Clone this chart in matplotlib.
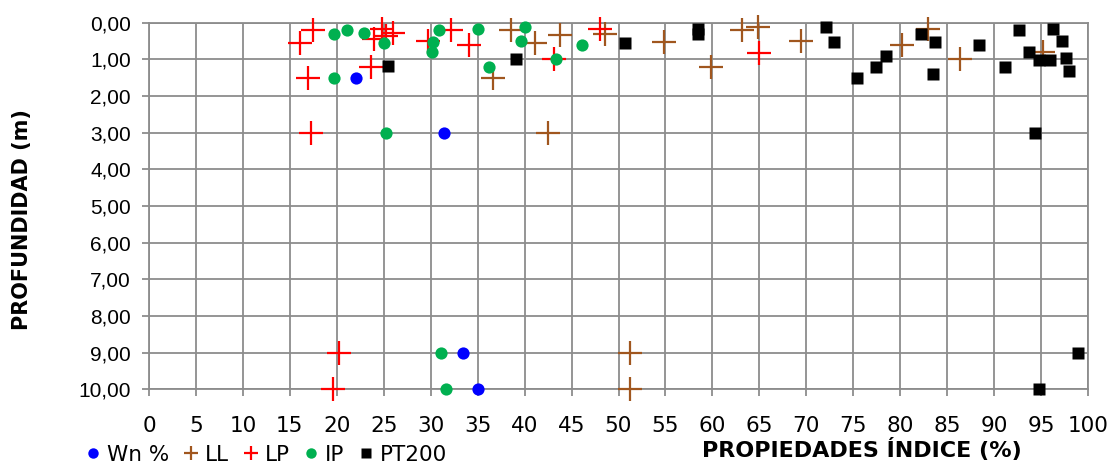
import matplotlib
matplotlib.use("Agg")
import matplotlib.pyplot as plt
from matplotlib.lines import Line2D

# Humedad natural (Wn %)
wn_x = [22.0, 31.4, 33.4, 35.0]
wn_y = [1.50, 3.00, 9.00, 10.00]

# Limite liquido (LL)
ll_x = [36.6, 38.6, 41.1, 43.8, 42.5, 48.6, 54.8, 59.9, 63.2, 64.9, 69.4,
        80.2, 83.0, 86.4, 95.2, 51.2, 51.2]
ll_y = [1.50, 0.20, 0.55, 0.33, 3.00, 0.30, 0.52, 1.20, 0.20, 0.11, 0.50,
        0.61, 0.17, 1.00, 0.80, 9.00, 10.00]

# Limite plastico (LP)
lp_x = [16.1, 17.5, 16.9, 17.3, 23.6, 24.0, 24.8, 25.2, 26.0, 29.7, 32.2,
        34.1, 43.1, 48.0, 65.0, 20.2, 19.6]
lp_y = [0.55, 0.20, 1.50, 3.00, 1.22, 0.45, 0.17, 0.35, 0.28, 0.50, 0.20,
        0.61, 1.00, 0.17, 0.82, 9.00, 10.00]

# Indice plastico (IP)
ip_x = [19.7, 21.1, 22.9, 25.0, 30.9, 30.2, 30.1, 35.0, 36.2, 40.0, 39.6,
        43.3, 46.1, 19.7, 25.2, 31.1, 31.6]
ip_y = [0.32, 0.19, 0.28, 0.55, 0.20, 0.52, 0.81, 0.17, 1.20, 0.13, 0.50,
        1.00, 0.61, 1.50, 3.00, 9.00, 10.00]

# Pasa tamiz 200 (PT200)
pt_x = [25.5, 39.1, 50.7, 58.5, 58.5, 72.1, 72.9, 75.4, 77.4, 78.5, 82.2,
        83.7, 83.5, 88.4, 91.2, 92.7, 93.7, 94.8, 95.9, 96.3, 97.2, 97.7,
        98.0, 94.4, 98.9, 94.8]
pt_y = [1.17, 1.00, 0.55, 0.17, 0.30, 0.13, 0.54, 1.50, 1.20, 0.90, 0.32,
        0.52, 1.41, 0.61, 1.20, 0.20, 0.81, 1.02, 1.02, 0.17, 0.50, 0.95,
        1.31, 3.00, 9.00, 10.00]

x_ticks = list(range(0, 101, 5))
y_ticks = list(range(0, 11))
y_tick_labels = [f"{v:.2f}".replace(".", ",") for v in y_ticks]

C_WN = "#0000ff"
C_LL = "#a0561e"
C_LP = "#ff0000"
C_IP = "#00b050"
C_PT = "#000000"
GRID = "#8c8c8c"

fig = plt.figure(figsize=(11.09, 4.66), dpi=100)
ax = fig.add_axes([149 / 1109, 1 - 389.3 / 466, 939 / 1109, 366.6 / 466])

ax.plot(wn_x, wn_y, ls="none", marker="o", ms=8.8, color=C_WN, mec="none", clip_on=False, zorder=3)
ax.plot(ll_x, ll_y, ls="none", marker="+", ms=17, mew=1.6, color=C_LL, clip_on=False, zorder=3)
ax.plot(lp_x, lp_y, ls="none", marker="+", ms=17, mew=1.6, color=C_LP, clip_on=False, zorder=3)
ax.plot(ip_x, ip_y, ls="none", marker="o", ms=8.8, color=C_IP, mec="none", clip_on=False, zorder=3)
ax.plot(pt_x, pt_y, ls="none", marker="s", ms=8.4, color=C_PT, mec="none", clip_on=False, zorder=3)

ax.set_xlim(0, 100)
ax.set_ylim(10, 0)
ax.set_xticks(x_ticks)
ax.set_yticks(y_ticks)
ax.set_yticklabels(y_tick_labels, fontfamily="Liberation Sans", fontsize=15)
ax.set_xticklabels([str(v) for v in x_ticks], fontfamily="DejaVu Sans", fontsize=15.5)

ax.grid(True, color=GRID, lw=1.3)
ax.set_axisbelow(True)
for sp in ax.spines.values():
    sp.set_color(GRID)
    sp.set_linewidth(1.3)
ax.tick_params(axis="both", colors=GRID, labelcolor="black", width=1.3)
ax.tick_params(axis="y", length=5, pad=8)
ax.tick_params(axis="x", length=5, pad=14)

ax.set_xlabel("PROPIEDADES ÍNDICE (%)", fontfamily="DejaVu Sans", fontweight="bold",
              fontsize=16, va="center", ha="center")
ax.xaxis.set_label_coords((862 - 149) / 939, (389.3 - 449) / 366.6)
ax.set_ylabel("PROFUNDIDAD (m)", fontfamily="DejaVu Sans", fontweight="bold",
              fontsize=15, va="center", ha="center")
ax.yaxis.set_label_coords((22 - 149) / 939, (389.3 - 220) / 366.6)

handles = [
    Line2D([], [], ls="none", marker="o", ms=7.5, color=C_WN, mec="none"),
    Line2D([], [], ls="none", marker="+", ms=10, mew=1.6, color=C_LL),
    Line2D([], [], ls="none", marker="+", ms=10, mew=1.6, color=C_LP),
    Line2D([], [], ls="none", marker="o", ms=7.5, color=C_IP, mec="none"),
    Line2D([], [], ls="none", marker="s", ms=7, color=C_PT, mec="none"),
]
labels = ["Wn %", "LL", "LP", "IP", "PT200"]
fig.legend(handles, labels, loc="center left", bbox_to_anchor=(87 / 1109, 1 - 455 / 466),
           ncol=5, frameon=False, handlelength=0.6, handletextpad=0.35,
           columnspacing=0.7, borderpad=0, borderaxespad=0,
           prop={"family": "DejaVu Sans", "size": 15.5})

fig.savefig("out.png", dpi=100)
